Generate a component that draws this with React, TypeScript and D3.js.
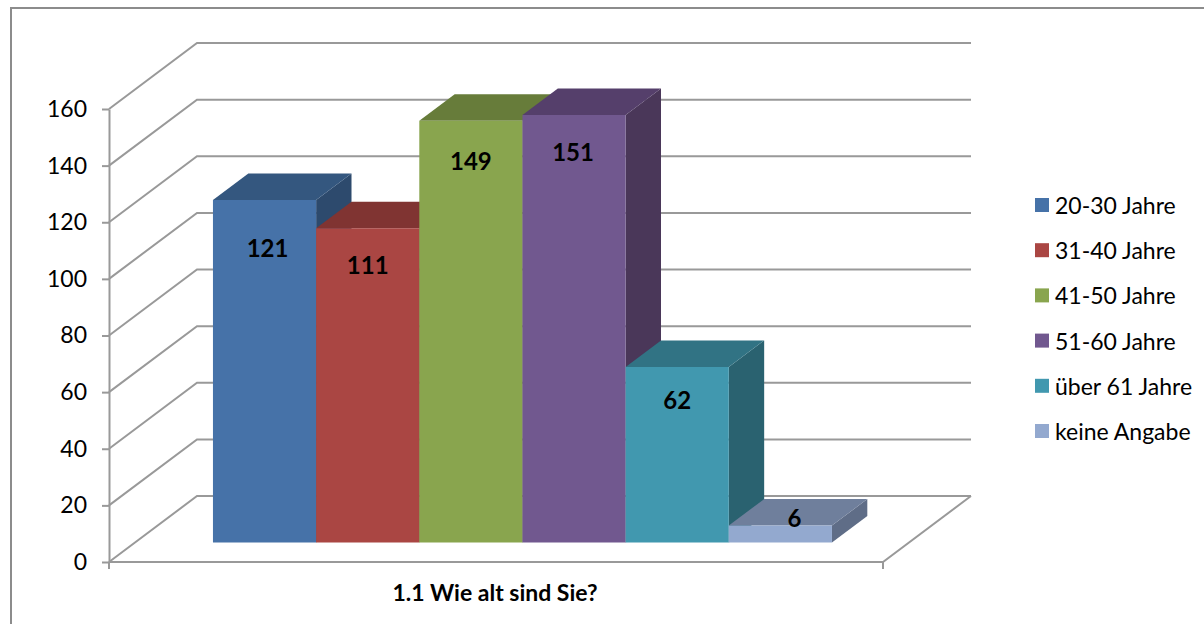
import { useEffect, useRef } from 'react';
import * as d3 from 'd3';

const categories = ['20-30 Jahre', '31-40 Jahre', '41-50 Jahre', '51-60 Jahre', 'über 61 Jahre', 'keine Angabe'];
const values = [121, 111, 149, 151, 62, 6];
const yTicks = [0, 20, 40, 60, 80, 100, 120, 140, 160];
const frontColors = ['#4672a8', '#aa4643', '#89a54e', '#71588f', '#4198af', '#93a9cf'];
const topColors = ['#34577f', '#803432', '#677c3a', '#553f6b', '#317384', '#6f7f9c'];
const sideColors = ['#2d4a6d', '#6e2d2b', '#586a32', '#4a3759', '#2a6270', '#5f6d87'];
const title = '1.1 Wie alt sind Sie?';

// labels were dragged by hand in the original, so they need a nudge
const labelNudge = [[3, 48], [0, 36], [0, 40], [-1, 36], [0, 33], [14, -8]];

const FONT = 'Lato, "Open Sans", sans-serif';
const GRID = '#999999';

function App() {
  const svgRef = useRef<SVGSVGElement>(null);

  useEffect(() => {
    if (!svgRef.current) return;
    const svg = d3.select(svgRef.current);
    svg.selectAll('*').remove();

    const width = 1204;
    const height = 624;
    svg.attr('viewBox', `0 0 ${width} ${height}`);

    // Chart frame, cut off by the screenshot on the right and bottom
    const frame = d3.path();
    frame.moveTo(11, height);
    frame.lineTo(11, 8);
    frame.lineTo(width, 8);
    svg.append('path').attr('d', frame.toString()).attr('fill', 'none')
      .attr('stroke', '#8c8c8c').attr('stroke-width', 2);

    const y = d3.scaleLinear().domain([0, 160]).range([562, 109]);
    const floorX = d3.scaleLinear().domain([0, 1]).range([109, 883]);
    const depthX = d3.scaleLinear().domain([0, 1]).range([0, 88]);
    const depthY = d3.scaleLinear().domain([0, 1]).range([0, -66]);

    // project a (x, value, depth) point to the screen
    const pt = (px: number, v: number, z: number): [number, number] => [
      px + depthX(z),
      y(v) + depthY(z),
    ];
    const line = d3.line();

    // Walls and gridlines
    yTicks.forEach(t => {
      svg.append('path')
        .attr('d', line([pt(floorX(0), t, 0), pt(floorX(0), t, 1), pt(floorX(1), t, 1)]))
        .attr('fill', 'none')
        .attr('stroke', GRID)
        .attr('stroke-width', 2);
    });

    // Floor edges
    svg.append('path')
      .attr('d', line([pt(floorX(0), 0, 0), pt(floorX(1), 0, 0), pt(floorX(1), 0, 1)]))
      .attr('fill', 'none')
      .attr('stroke', GRID)
      .attr('stroke-width', 2);

    // Value axis
    const axis = svg.append('g')
      .attr('transform', `translate(${floorX(0)},0)`)
      .call(d3.axisLeft(y).tickValues(yTicks).tickSize(7).tickSizeOuter(0).tickPadding(15));
    axis.select('.domain').attr('stroke', GRID).attr('stroke-width', 2);
    axis.selectAll('.tick line').attr('stroke', GRID).attr('stroke-width', 2);
    axis.selectAll('.tick text')
      .attr('font-family', FONT)
      .attr('font-size', 23)
      .attr('fill', '#000');

    // Category ticks on the floor
    floorX.domain().forEach(d => {
      svg.append('line')
        .attr('x1', floorX(d)).attr('x2', floorX(d))
        .attr('y1', y(0)).attr('y2', y(0) + 7)
        .attr('stroke', GRID).attr('stroke-width', 2);
    });

    // Bars
    const x = d3.scaleBand<string>().domain(categories).range([187, 806]);
    const zFront = 0.295;
    const zBack = 0.697;

    const bars = svg.selectAll('.bar')
      .data(categories)
      .enter()
      .append('g')
      .attr('class', 'bar');

    bars.append('path')
      .attr('fill', (_, i) => sideColors[i])
      .attr('d', (d, i) => {
        const r = (x(d) as number) + x.bandwidth();
        return line([pt(r, values[i], zFront), pt(r, values[i], zBack), pt(r, 0, zBack), pt(r, 0, zFront)]) + 'Z';
      });

    bars.append('path')
      .attr('fill', (_, i) => topColors[i])
      .attr('d', (d, i) => {
        const l = x(d) as number;
        const r = l + x.bandwidth();
        return line([pt(l, values[i], zFront), pt(l, values[i], zBack), pt(r, values[i], zBack), pt(r, values[i], zFront)]) + 'Z';
      });

    bars.append('path')
      .attr('fill', (_, i) => frontColors[i])
      .attr('d', (d, i) => {
        const l = x(d) as number;
        const r = l + x.bandwidth();
        return line([pt(l, values[i], zFront), pt(r, values[i], zFront), pt(r, 0, zFront), pt(l, 0, zFront)]) + 'Z';
      });

    // Value labels go on top of all bars
    svg.selectAll('.value-label')
      .data(categories)
      .enter()
      .append('text')
      .attr('class', 'value-label')
      .attr('text-anchor', 'middle')
      .attr('dominant-baseline', 'central')
      .attr('font-family', FONT)
      .attr('font-size', 24)
      .attr('font-weight', 700)
      .attr('fill', '#000')
      .attr('x', (d, i) => pt((x(d) as number) + x.bandwidth() / 2, values[i], zFront)[0] + labelNudge[i][0])
      .attr('y', (d, i) => pt(0, values[i], zFront)[1] + labelNudge[i][1])
      .text((_, i) => values[i]);

    // Axis title
    svg.append('text')
      .attr('x', 495)
      .attr('y', 601)
      .attr('text-anchor', 'middle')
      .attr('font-family', FONT)
      .attr('font-size', 23)
      .attr('font-weight', 700)
      .attr('fill', '#000')
      .text(title);

    // Legend
    const legendY = d3.scalePoint<string>().domain(categories).range([205, 431]);
    const legend = svg.selectAll('.legend')
      .data(categories)
      .enter()
      .append('g')
      .attr('class', 'legend')
      .attr('transform', d => `translate(1035,${legendY(d)})`);

    legend.append('rect')
      .attr('y', -7)
      .attr('width', 14)
      .attr('height', 14)
      .attr('fill', (_, i) => frontColors[i]);

    legend.append('text')
      .attr('x', 20)
      .attr('dominant-baseline', 'central')
      .attr('font-family', FONT)
      .attr('font-size', 23)
      .attr('fill', '#000')
      .text(d => d);
  }, []);

  return (
    <svg
      ref={svgRef}
      width={1204}
      height={624}
      style={{ position: 'absolute', top: 0, left: 0, display: 'block', background: '#fff' }}
    />
  );
}

export default App;
